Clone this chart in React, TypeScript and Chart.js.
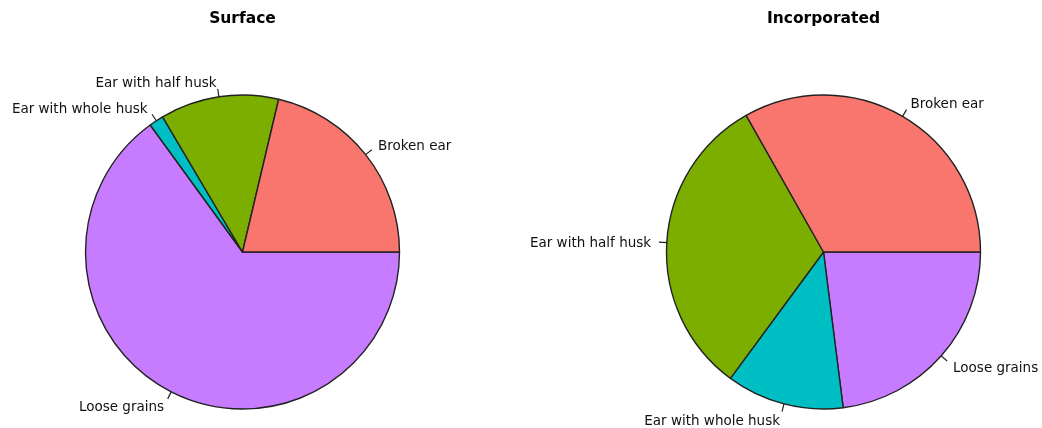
import React, { useEffect, useRef } from "react";
import { Chart, registerables } from "chart.js";

Chart.register(...registerables);

const categories = ["Broken ear", "Ear with half husk", "Ear with whole husk", "Loose grains"];
const surfaceValues = [21.3, 12.2, 1.5, 65.0];
const incorporatedValues = [33.2, 31.7, 12.1, 23.0];
const sliceColors = ["#F8766D", "#7CAE00", "#00BFC4", "#C77CFF"];
const titles = ["Surface", "Incorporated"];

const LABEL_FONT = "13.5px 'DejaVu Sans'";
const TITLE_FONT = "bold 15.5px 'DejaVu Sans'";

const rPieLabels = {
  id: "rPieLabels",
  afterDraw(chart: any, _args: any, opts: any) {
    const ctx = chart.ctx;
    const meta = chart.getDatasetMeta(0);
    const labels = chart.data.labels as string[];
    ctx.save();
    let cx = 0;
    meta.data.forEach((arc: any, i: number) => {
      const { x, y, startAngle, endAngle, outerRadius } = arc.getProps(
        ["x", "y", "startAngle", "endAngle", "outerRadius"],
        true
      );
      cx = x;
      const mid = (startAngle + endAngle) / 2;
      const c = Math.cos(mid);
      const s = Math.sin(mid);
      ctx.strokeStyle = "#222";
      ctx.lineWidth = 1.2;
      ctx.beginPath();
      ctx.moveTo(x + c * outerRadius, y + s * outerRadius);
      ctx.lineTo(x + c * outerRadius * 1.05, y + s * outerRadius * 1.05);
      ctx.stroke();
      ctx.fillStyle = "#111";
      ctx.font = LABEL_FONT;
      ctx.textBaseline = "middle";
      ctx.textAlign = c < 0 ? "right" : "left";
      ctx.fillText(labels[i], x + c * outerRadius * 1.1, y + s * outerRadius * 1.1 + 2);
    });
    ctx.font = TITLE_FONT;
    ctx.fillStyle = "#000";
    ctx.textAlign = "center";
    ctx.textBaseline = "middle";
    ctx.fillText(opts.title, cx, 18.5);
    ctx.restore();
  },
};

function PieCanvas({ values, title, padLeft, padRight }: any) {
  const ref = useRef<HTMLCanvasElement>(null);
  useEffect(() => {
    if (!ref.current) return;
    const rev = (a: any[]) => a.slice().reverse();
    const chart = new Chart(ref.current, {
      type: "pie",
      data: {
        labels: rev(categories),
        datasets: [
          {
            data: rev(values),
            backgroundColor: rev(sliceColors),
            borderColor: "#222",
            borderWidth: 1.4,
            borderAlign: "center",
            radius: 157,
          } as any,
        ],
      },
      options: {
        animation: false,
        responsive: false,
        rotation: 90,
        layout: { padding: { left: padLeft, right: padRight, top: 76, bottom: 0 } },
        plugins: {
          legend: { display: false },
          tooltip: { enabled: false },
          rPieLabels: { title },
        } as any,
      },
      plugins: [rPieLabels],
    });
    return () => chart.destroy();
  }, []);
  return <canvas ref={ref} width={521} height={428} style={{ display: "block" }} />;
}

export default function App() {
  return (
    <div
      style={{
        position: "fixed",
        left: 0,
        top: 0,
        width: 1042,
        height: 428,
        display: "flex",
        background: "#fff",
      }}
    >
      <PieCanvas values={surfaceValues} title={titles[0]} padLeft={0} padRight={36} />
      <PieCanvas values={incorporatedValues} title={titles[1]} padLeft={84} padRight={0} />
    </div>
  );
}
